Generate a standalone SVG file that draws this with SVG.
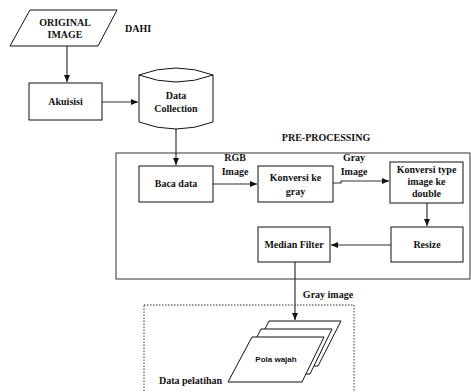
<svg xmlns="http://www.w3.org/2000/svg" width="471" height="392" viewBox="0 0 471 392">
<defs>
<marker id="ah" markerWidth="7" markerHeight="6" refX="7" refY="3" orient="auto" markerUnits="userSpaceOnUse">
<path d="M0,0 L7,3 L0,6 Z" fill="#111"/>
</marker>
<style>
.box{fill:#fff;stroke:#111;stroke-width:1}
.t{font-family:"Liberation Serif","Times New Roman",serif;font-weight:bold;font-size:10px;fill:#111;text-anchor:middle}
.tl{font-family:"Liberation Serif","Times New Roman",serif;font-weight:bold;font-size:10px;fill:#111}
.s{font-family:"Liberation Sans",Arial,sans-serif;font-weight:bold;font-size:8px;fill:#111;text-anchor:middle}
.c{fill:none;stroke:#333;stroke-width:1.2}
</style>
</defs>
<rect width="471" height="392" fill="#fff"/>

<g id="preprocessing">
<rect x="116" y="153" width="354" height="126" fill="none" stroke="#333" stroke-width="1"/>
<text class="t" x="326" y="141">PRE-PROCESSING</text>
</g>
<g id="data-pelatihan">
<rect x="144" y="305" width="210" height="100" fill="none" stroke="#333" stroke-width="1" stroke-dasharray="1.5,1.5"/>
<text class="tl" x="159" y="384">Data pelatihan</text>
</g>

<g id="connectors">
<line class="c" x1="67" y1="46" x2="67" y2="82" marker-end="url(#ah)"/>
<line class="c" x1="102" y1="102" x2="138" y2="102" marker-end="url(#ah)"/>
<line class="c" x1="176" y1="128" x2="176" y2="165" marker-end="url(#ah)"/>
<line class="c" x1="213" y1="184" x2="257" y2="184" marker-end="url(#ah)"/>
<path class="c" d="M333,183 H341 V181 H389" marker-end="url(#ah)"/>
<line class="c" x1="427" y1="203" x2="427" y2="226" marker-end="url(#ah)"/>
<line class="c" x1="391" y1="245" x2="331" y2="245" marker-end="url(#ah)"/>
<line class="c" x1="295" y1="262" x2="295" y2="320" marker-end="url(#ah)"/>
<text class="t" x="235" y="161">RGB</text>
<text class="t" x="235" y="175">Image</text>
<text class="t" x="354" y="161">Gray</text>
<text class="t" x="354" y="175">Image</text>
<text class="t" x="328" y="298">Gray image</text>
</g>

<g id="original-image">
<polygon class="box" points="30,10 117,10 98,46 10,46"/>
<text class="t" x="65" y="26">ORIGINAL</text>
<text class="t" x="65" y="38">IMAGE</text>
</g>
<g id="dahi">
<text class="tl" x="125" y="32">DAHI</text>
</g>

<g id="akuisisi">
<rect class="box" x="29" y="83" width="73" height="37"/>
<text class="t" x="65.5" y="105">Akuisisi</text>
</g>

<g id="data-collection">
<path class="box" d="M139,75 Q176,61 213,75 V122 Q176,136 139,122 Z"/>
<path fill="none" stroke="#111" stroke-width="1" d="M139,75 Q176,89 213,75"/>
<text class="t" x="176" y="99">Data</text>
<text class="t" x="176" y="112">Collection</text>
</g>

<g id="baca-data">
<rect class="box" x="139" y="166" width="74" height="36"/>
<text class="t" x="176" y="187">Baca data</text>
</g>

<g id="konversi-gray">
<rect class="box" x="258" y="166" width="75" height="36"/>
<text class="t" x="295.5" y="181">Konversi ke</text>
<text class="t" x="295.5" y="195">gray</text>
</g>

<g id="konversi-double">
<rect class="box" x="390" y="162" width="73" height="41"/>
<text class="t" x="426.5" y="173">Konversi type</text>
<text class="t" x="426.5" y="185">image ke</text>
<text class="t" x="426.5" y="197">double</text>
</g>

<g id="resize">
<rect class="box" x="391" y="227" width="72" height="35"/>
<text class="t" x="427" y="248">Resize</text>
</g>

<g id="median-filter">
<rect class="box" x="258" y="227" width="72" height="35"/>
<text class="t" x="294" y="248">Median Filter</text>
</g>

<g id="pola-wajah">
<polygon class="box" points="269,321 341,321 318,366 246,366"/>
<polygon class="box" points="261,329 332,329 310,374 238,374"/>
<polygon class="box" points="252,337 324,337 302,382 228,382"/>
<text class="s" x="276" y="362">Pola wajah</text>
</g>
</svg>
